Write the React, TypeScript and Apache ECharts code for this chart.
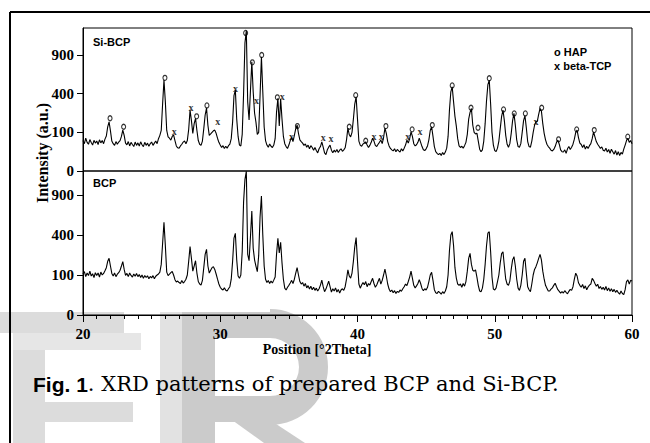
import React, { useEffect, useRef } from "react";
import * as echarts from "echarts";

// XRD patterns, 2Theta from 20 to 60 with step 0.1 (intensity in counts)
const START = 20;
const STEP = 0.1;

const siBcp = [
  62, 50, 72, 55, 48, 66, 54, 45, 63, 52,
  60, 47, 65, 53, 62, 50, 68, 82, 130, 162,
  108, 60, 50, 44, 58, 48, 56, 62, 80, 112,
  85, 52, 46, 58, 42, 55, 47, 40, 56, 44,
  53, 42, 57, 46, 40, 55, 44, 52, 41, 50,
  56, 44, 52, 60, 50, 70, 85, 110, 300, 553,
  320, 110, 78, 72, 64, 80, 87, 62, 42, 36,
  35, 42, 48, 56, 60, 50, 62, 115, 248, 170,
  95, 150, 185, 110, 62, 48, 44, 60, 120, 210,
  265, 140, 85, 92, 100, 108, 112, 95, 72, 55,
  45, 37, 43, 34, 41, 35, 43, 48, 70, 160,
  380, 438, 180, 80, 45, 42, 90, 400, 1100, 1320,
  320, 175, 430, 797, 420, 225, 160, 90, 100, 380,
  872, 420, 130, 62, 45, 38, 49, 41, 37, 45,
  70, 230, 355, 135, 350, 180, 80, 50, 40, 34,
  45, 62, 75, 58, 85, 120, 141, 95, 65, 58,
  52, 44, 49, 38, 45, 33, 43, 37, 29, 37,
  28, 22, 33, 40, 57, 38, 22, 18, 30, 38,
  45, 29, 22, 29, 24, 31, 23, 29, 33, 26,
  30, 36, 65, 123, 88, 78, 100, 180, 300, 369,
  180, 60, 45, 41, 49, 52, 57, 45, 37, 44,
  55, 72, 60, 44, 40, 48, 55, 64, 50, 75,
  123, 95, 58, 42, 34, 30, 27, 33, 25, 31,
  27, 24, 33, 27, 35, 45, 64, 52, 70, 103,
  80, 50, 42, 46, 55, 72, 55, 40, 30, 28,
  33, 42, 65, 110, 131, 80, 40, 25, 21, 18,
  21, 16, 23, 18, 24, 35, 80, 250, 420, 474,
  320, 200, 135, 70, 42, 37, 41, 35, 43, 55,
  90, 180, 230, 262, 140, 100, 92, 96, 60, 32,
  25, 30, 60, 150, 330, 500, 553, 300, 100, 45,
  28, 25, 35, 60, 120, 200, 248, 170, 85, 48,
  38, 50, 95, 170, 222, 140, 65, 40, 38, 50,
  100, 170, 205, 125, 58, 40, 38, 60, 100, 140,
  162, 165, 215, 262, 240, 150, 95, 65, 48, 40,
  35, 29, 27, 31, 40, 55, 64, 48, 30, 25,
  24, 30, 21, 33, 40, 31, 38, 48, 68, 100,
  112, 75, 52, 47, 37, 46, 32, 41, 34, 43,
  50, 70, 103, 78, 58, 48, 41, 34, 39, 29,
  27, 35, 24, 31, 21, 32, 25, 19, 28, 17,
  25, 16, 23, 19, 32, 45, 62, 72, 55, 62,
  50,
];

const bcp = [
  105, 118, 92, 110, 97, 120, 95, 106, 88, 112,
  98, 110, 90, 115, 100, 108, 122, 140, 180, 201,
  150, 108, 95, 110, 92, 104, 112, 125, 150, 178,
  130, 98, 108, 92, 110, 98, 90, 105, 94, 108,
  92, 102, 88, 100, 84, 97, 88, 96, 82, 93,
  86, 97, 82, 94, 100, 105, 115, 160, 320, 537,
  300, 115, 97, 104, 112, 118, 100, 78, 68, 72,
  66, 62, 74, 64, 70, 80, 100, 180, 292, 200,
  120, 150, 184, 110, 70, 60, 56, 75, 140, 230,
  270, 150, 110, 125, 140, 146, 130, 105, 80, 60,
  48, 42, 39, 46, 38, 36, 43, 50, 80, 180,
  370, 417, 190, 95, 84, 100, 250, 800, 1150, 1290,
  230, 185, 380, 676, 280, 190, 150, 117, 220, 600,
  885, 400, 150, 80, 66, 74, 62, 72, 64, 76,
  90, 230, 367, 240, 330, 170, 80, 45, 39, 48,
  55, 64, 75, 62, 80, 110, 140, 100, 70, 60,
  66, 52, 62, 46, 54, 42, 52, 40, 48, 38,
  45, 36, 43, 56, 76, 50, 34, 42, 56, 72,
  50, 33, 43, 36, 46, 33, 41, 30, 39, 43,
  38, 50, 80, 127, 95, 85, 110, 180, 290, 374,
  180, 60, 45, 56, 66, 57, 70, 50, 62, 56,
  70, 84, 62, 48, 56, 70, 84, 60, 75, 100,
  132, 95, 60, 42, 34, 39, 31, 37, 29, 35,
  32, 39, 35, 43, 50, 60, 54, 70, 90, 120,
  85, 55, 46, 53, 62, 78, 62, 44, 37, 43,
  39, 48, 70, 100, 114, 75, 40, 31, 29, 35,
  31, 27, 34, 29, 36, 50, 100, 260, 400, 434,
  300, 140, 85, 60, 55, 60, 48, 62, 52, 70,
  120, 200, 238, 160, 125, 120, 127, 90, 55, 36,
  34, 45, 80, 160, 300, 420, 434, 250, 90, 42,
  39, 46, 70, 100, 170, 235, 250, 150, 80, 60,
  55, 72, 130, 190, 213, 150, 80, 45, 38, 55,
  100, 180, 201, 110, 50, 40, 34, 60, 100, 130,
  146, 170, 200, 230, 190, 120, 80, 55, 45, 36,
  36, 42, 46, 55, 63, 50, 40, 35, 30, 34,
  30, 37, 32, 28, 35, 41, 38, 50, 80, 109,
  95, 65, 55, 48, 58, 44, 53, 40, 49, 56,
  60, 84, 75, 62, 52, 59, 44, 51, 41, 48,
  39, 51, 37, 46, 35, 43, 34, 41, 32, 38,
  31, 27, 36, 29, 26, 40, 70, 77, 60, 75,
  72,
];

// Phase markers on the Si-BCP pattern: [2Theta, intensity at marker]
const hapMarks = [
  [21.97, 186], [22.96, 131], [25.97, 581], [28.28, 200], [29.03, 288],
  [31.85, 1276], [32.34, 790], [33.02, 900], [34.16, 363], [35.62, 135],
  [39.4, 131], [39.87, 385], [40.6, 61], [42.07, 135], [43.98, 116],
  [45.45, 141], [46.9, 490], [48.27, 268], [48.78, 125], [49.6, 575],
  [50.64, 254], [51.42, 222], [52.23, 222], [53.42, 268], [54.65, 67],
  [55.97, 116], [57.25, 112], [59.69, 79],
];
const tcpMarks = [
  [26.65, 103], [27.87, 271], [29.81, 162], [31.12, 456], [32.65, 337],
  [34.52, 369], [35.2, 78], [37.51, 76], [38.07, 71], [41.2, 82],
  [41.73, 82], [43.66, 82], [44.55, 103], [53.0, 162],
];

const yTickValues = [0, 100, 400, 900];
const xTickValues = [20, 30, 40, 50, 60];

const toXY = (arr: number[]) =>
  arr.map((v, i) => [Number((START + i * STEP).toFixed(2)), Math.sqrt(v)]);

const serif = "Liberation Serif";
const sans = "Liberation Sans";

export default function App() {
  const ref = useRef<HTMLDivElement>(null);
  useEffect(() => {
    if (!ref.current) return;
    const chart = echarts.init(ref.current, undefined, { renderer: "svg" });
    const yCustom = yTickValues.map((v) => Math.sqrt(v));
    const yAxisBase = (gridIndex: number, max: number) => ({
      type: "value" as const,
      gridIndex,
      min: 0,
      max,
      axisLine: { show: true, lineStyle: { color: "#000", width: 1 } },
      axisTick: {
        show: true,
        length: 6,
        customValues: yCustom,
        lineStyle: { color: "#000", width: 1 },
      },
      axisLabel: {
        show: true,
        customValues: yCustom,
        margin: 9,
        fontFamily: serif,
        fontWeight: "bold" as const,
        fontSize: 15,
        color: "#000",
        formatter: (v: number) => String(Math.round(v * v)),
      },
      splitLine: { show: false },
    });
    chart.setOption({
      animation: false,
      backgroundColor: "#fff",
      grid: [
        { left: 83, top: 28, width: 549, height: 143, show: true, borderColor: "#000", borderWidth: 1 },
        { left: 83, top: 171, width: 549, height: 144, show: true, borderColor: "#000", borderWidth: 1 },
      ],
      xAxis: [
        {
          type: "value",
          gridIndex: 0,
          min: 20,
          max: 60,
          interval: 10,
          axisLine: { show: false },
          axisTick: { show: false },
          axisLabel: { show: false },
          splitLine: { show: false },
        },
        {
          type: "value",
          gridIndex: 1,
          min: 20,
          max: 60,
          interval: 10,
          axisLine: { show: true, lineStyle: { color: "#000", width: 1 } },
          axisTick: { show: true, length: 7, customValues: xTickValues, lineStyle: { color: "#000", width: 1 } },
          minorTick: { show: true, splitNumber: 10, length: 4, lineStyle: { color: "#000", width: 1 } },
          axisLabel: {
            show: true,
            customValues: xTickValues,
            margin: 11,
            fontFamily: serif,
            fontWeight: "bold",
            fontSize: 15,
            color: "#000",
          },
          splitLine: { show: false },
        },
      ],
      yAxis: [yAxisBase(0, 37), yAxisBase(1, 36)],
      graphic: [
        // watermark fragments
        { type: "rect", z: -10, shape: { x: 0, y: 312, width: 124, height: 21 }, style: { fill: "#dcdcdc" } },
        { type: "rect", z: -10, shape: { x: 13, y: 333, width: 128, height: 17 }, style: { fill: "#e6e6e6" } },
        { type: "rect", z: -10, shape: { x: 13, y: 350, width: 32, height: 93 }, style: { fill: "#dcdcdc" } },
        { type: "rect", z: -10, shape: { x: 13, y: 402, width: 120, height: 20 }, style: { fill: "#dcdcdc" } },
        { type: "rect", z: -10, shape: { x: 160, y: 312, width: 22, height: 131 }, style: { fill: "#e2e2e2" } },
        { type: "rect", z: -10, shape: { x: 182, y: 312, width: 33, height: 131 }, style: { fill: "#cbcbcb" } },
        { type: "rect", z: -10, shape: { x: 215, y: 312, width: 55, height: 26 }, style: { fill: "#cbcbcb" } },
        { type: "rect", z: -10, shape: { x: 215, y: 396, width: 55, height: 26 }, style: { fill: "#cbcbcb" } },
        {
          type: "sector",
          z: -10,
          shape: { cx: 270, cy: 367, r: 58, r0: 29, startAngle: -Math.PI / 2, endAngle: Math.PI / 2, clockwise: true },
          style: { fill: "#cbcbcb" },
        },
        { type: "polygon", z: -10, shape: { points: [[232, 420], [270, 420], [305, 443], [264, 443]] }, style: { fill: "#cbcbcb" } },
        // outer frame
        { type: "line", shape: { x1: 10, y1: 12, x2: 650, y2: 12 }, style: { stroke: "#000", lineWidth: 2 } },
        { type: "line", shape: { x1: 10, y1: 12, x2: 10, y2: 443 }, style: { stroke: "#000", lineWidth: 2 } },
        // panel labels
        { type: "text", x: 93, y: 42, style: { text: "Si-BCP", fontFamily: sans, fontWeight: "bold", fontSize: 11, fill: "#000", verticalAlign: "middle" } },
        { type: "text", x: 93, y: 183, style: { text: "BCP", fontFamily: sans, fontWeight: "bold", fontSize: 11, fill: "#000", verticalAlign: "middle" } },
        { type: "text", x: 554, y: 52, style: { text: "o HAP", fontFamily: sans, fontWeight: "bold", fontSize: 11, fill: "#000", verticalAlign: "middle" } },
        { type: "text", x: 554, y: 66, style: { text: "x beta-TCP", fontFamily: sans, fontWeight: "bold", fontSize: 11, fill: "#000", verticalAlign: "middle" } },
        // axis titles
        {
          type: "text",
          x: 42,
          y: 153,
          rotation: Math.PI / 2,
          style: { text: "Intensity (a.u.)", fontFamily: serif, fontWeight: "bold", fontSize: 16, fill: "#000", align: "center", verticalAlign: "middle" },
        },
        {
          type: "text",
          x: 317,
          y: 349,
          style: { text: "Position [°2Theta]", fontFamily: serif, fontWeight: "bold", fontSize: 14, fill: "#000", align: "center", verticalAlign: "middle" },
        },
        // caption
        {
          type: "text",
          x: 33,
          y: 384,
          style: {
            text: "{b|Fig. 1}{r|. XRD patterns of prepared BCP and Si-BCP.}",
            verticalAlign: "middle",
            rich: {
              b: { fontFamily: sans, fontWeight: "bold", fontSize: 21, fill: "#000" },
              r: { fontFamily: "DejaVu Serif", fontSize: 21, fill: "#000" },
            },
          },
        },
      ],
      series: [
        {
          type: "line",
          xAxisIndex: 0,
          yAxisIndex: 0,
          data: toXY(siBcp),
          showSymbol: false,
          symbol: "none",
          lineStyle: { color: "#000", width: 1.1 },
          silent: true,
        },
        {
          type: "line",
          xAxisIndex: 1,
          yAxisIndex: 1,
          data: toXY(bcp),
          showSymbol: false,
          symbol: "none",
          lineStyle: { color: "#000", width: 1.1 },
          silent: true,
        },
        {
          name: "HAP",
          type: "scatter",
          xAxisIndex: 0,
          yAxisIndex: 0,
          data: hapMarks.map(([x, v]) => [x, Math.sqrt(v)]),
          symbol: "circle",
          symbolSize: [4, 5],
          itemStyle: { color: "rgba(255,255,255,0)", borderColor: "#000", borderWidth: 1.2 },
          silent: true,
          z: 5,
        },
        {
          name: "beta-TCP",
          type: "scatter",
          xAxisIndex: 0,
          yAxisIndex: 0,
          data: tcpMarks.map(([x, v]) => [x, Math.sqrt(v)]),
          symbol: "circle",
          symbolSize: 1,
          itemStyle: { color: "rgba(0,0,0,0)" },
          label: {
            show: true,
            position: "inside",
            formatter: "x",
            fontFamily: serif,
            fontWeight: "bold",
            fontSize: 10,
            color: "#000",
            textBorderWidth: 0,
          },
          labelLayout: { hideOverlap: false },
          silent: true,
          z: 5,
        },
      ],
    });
    return () => chart.dispose();
  }, []);
  return (
    <div
      ref={ref}
      style={{ position: "fixed", left: 0, top: 0, width: 650, height: 443, background: "#fff" }}
    />
  );
}
